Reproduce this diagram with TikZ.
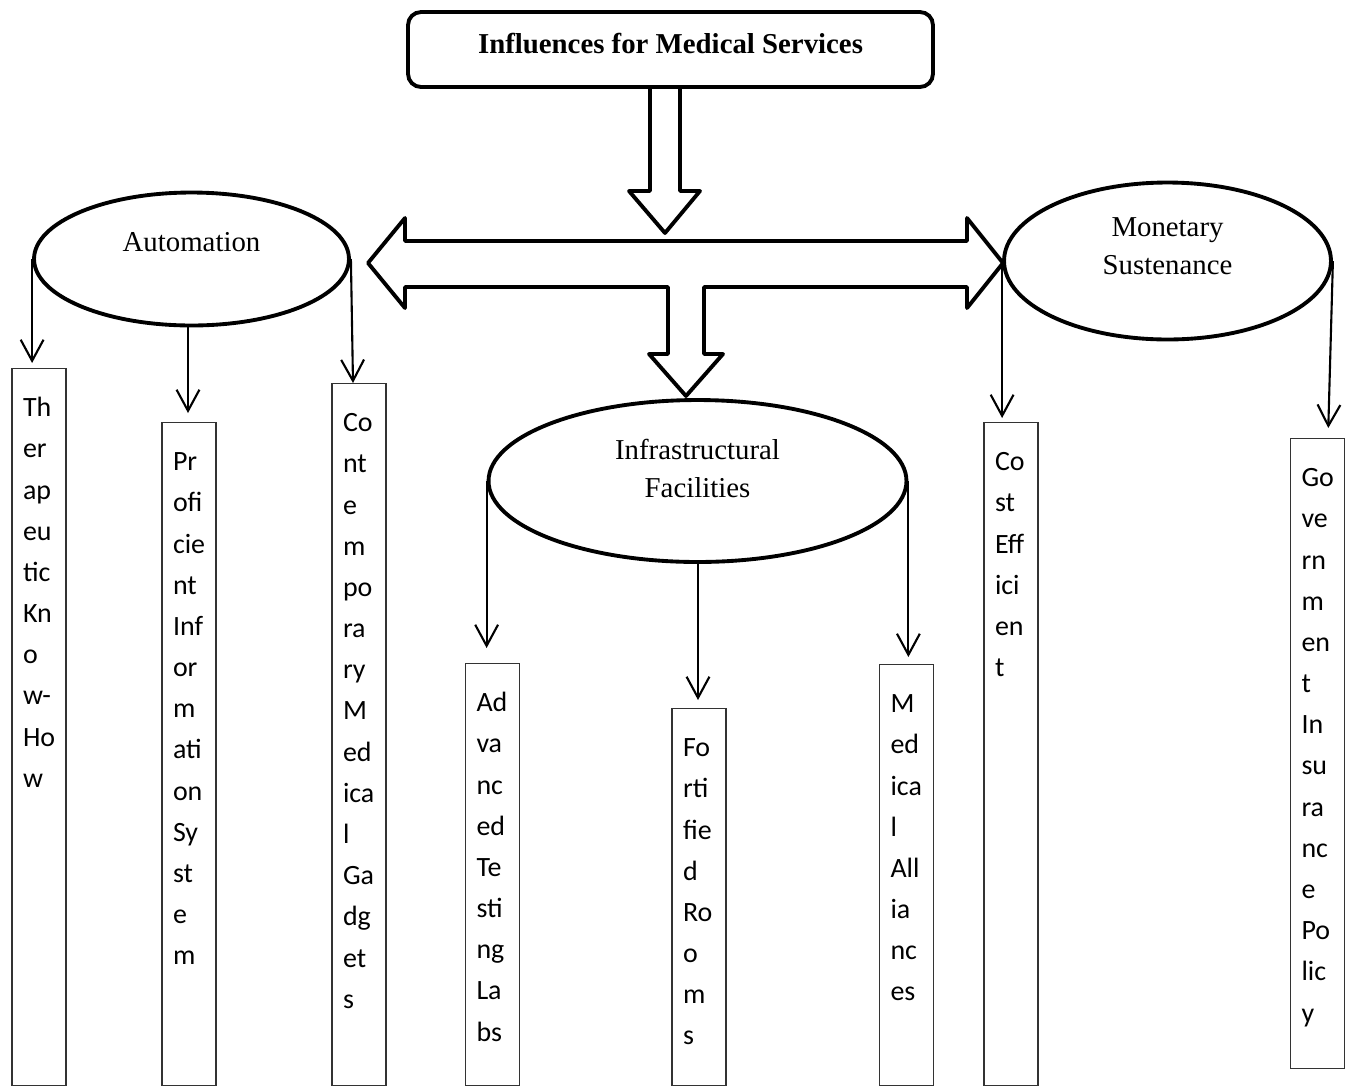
\documentclass[tikz,border=0pt]{standalone}
\usepackage{fontspec}
\setmainfont{Liberation Serif}
\newfontfamily\colfont{Carlito}
\usetikzlibrary{shapes.geometric,arrows.meta}

% narrow column of word pieces, text hung from the top
\newcommand{\colstack}[2]{\parbox[c][#1][t]{1.08cm}{\raggedright\leftskip=0.22cm\parindent=0pt\rule{0pt}{0.96cm}#2\par}}

\begin{document}
\begin{tikzpicture}[x=0.02cm,y=-0.02cm,
    titlebox/.style={draw,rounded corners=0.26cm,line width=2.2pt,minimum width=10.5cm,minimum height=1.5cm,inner sep=0pt},
    oval/.style={draw,ellipse,line width=2.2pt,inner sep=0pt},
    ovaltext/.style={font=\fontsize{16.4pt}{0.77cm}\selectfont,align=center},
    col/.style={draw=black!80,line width=0.7pt,anchor=north,inner sep=0pt,font=\colfont\fontsize{15.9pt}{0.824cm}\selectfont},
    blockarrow/.style={line width=2.2pt,line join=round},
    conn/.style={line width=1.2pt,-{Straight Barb[length=12pt,width=13pt]}}]
    \useasboundingbox (0,0) rectangle (1351,1086);

    \node[titlebox,label={[font=\bfseries\fontsize{16.4pt}{20pt}\selectfont,yshift=0.11cm]center:Influences for Medical Services}] at (670.5,49.5) (title) {};

    \node[oval,minimum width=6.3cm,minimum height=2.66cm,label={[ovaltext,yshift=0.34cm]center:Automation}] at (191.5,259) (auto) {};
    \node[oval,minimum width=6.54cm,minimum height=3.14cm,label={[ovaltext,yshift=0.3cm]center:Monetary\\Sustenance}] at (1167.5,261) (mon) {};
    \node[oval,minimum width=8.36cm,minimum height=3.24cm,label={[ovaltext,yshift=0.25cm]center:Infrastructural\\Facilities}] at (697.5,481) (infra) {};

    \node[col] at (39,368) (ther) {\colstack{14.34cm}{Th\\er\\ap\\eu\\tic\\Kn\\o\\w-\\Ho\\w}};
    \node[col] at (189,422) (prof) {\colstack{13.26cm}{Pr\\ofi\\cie\\nt\\Inf\\or\\m\\ati\\on\\Sy\\st\\e\\m}};
    \node[col] at (359,383) (cont) {\colstack{14.04cm}{Co\\nt\\e\\m\\po\\ra\\ry\\M\\ed\\ica\\l\\Ga\\dg\\et\\s}};
    \node[col] at (492.5,663) (adv) {\colstack{8.44cm}{Ad\\va\\nc\\ed\\Te\\sti\\ng\\La\\bs}};
    \node[col] at (699,708) (fort) {\colstack{7.54cm}{Fo\\rti\\fie\\d\\Ro\\o\\m\\s}};
    \node[col] at (906.5,664) (med) {\colstack{8.42cm}{M\\ed\\ica\\l\\All\\ia\\nc\\es}};
    \node[col] at (1011,422) (cost) {\colstack{13.26cm}{Co\\st\\Eff\\ici\\en\\t}};
    \node[col] at (1317.5,438) (gov) {\colstack{12.6cm}{Go\\ve\\rn\\m\\en\\t\\In\\su\\ra\\nc\\e\\Po\\lic\\y}};

    % hollow arrows
    \draw[blockarrow] (650,87) -- (650,191) -- (629,191) -- (665,233) -- (700,191) -- (680,191) -- (680,87);
    \draw[blockarrow] (405,241) -- (967,241) -- (967,218) -- (1003,263) -- (967,308) -- (967,287)
        -- (704,287) -- (704,354) -- (723,354) -- (686,396) -- (649,354) -- (668,354) -- (668,287)
        -- (405,287) -- (405,308) -- (368,263) -- (405,218) -- cycle;

    \path[conn]
        (auto.west) edge[shorten >=0.1cm] (auto.west |- ther.north)
        ([xshift=-0.07cm]auto.south) edge[shorten >=0.18cm] ([xshift=-0.07cm]auto.south |- prof.north)
        (auto.east) edge ([xshift=-0.12cm]cont.north)
        (infra.west) edge[shorten >=0.3cm] (infra.west |- adv.north)
        ([xshift=0.01cm]infra.south) edge[shorten >=0.16cm] ([xshift=0.01cm]infra.south |- fort.north)
        (infra.east) edge[shorten >=0.14cm] (infra.east |- med.north)
        (mon.west) edge[shorten >=0.08cm] (mon.west |- cost.north)
        (mon.east) edge[shorten >=0.2cm] ([xshift=0.21cm]gov.north)
        ;
\end{tikzpicture}
\end{document}
